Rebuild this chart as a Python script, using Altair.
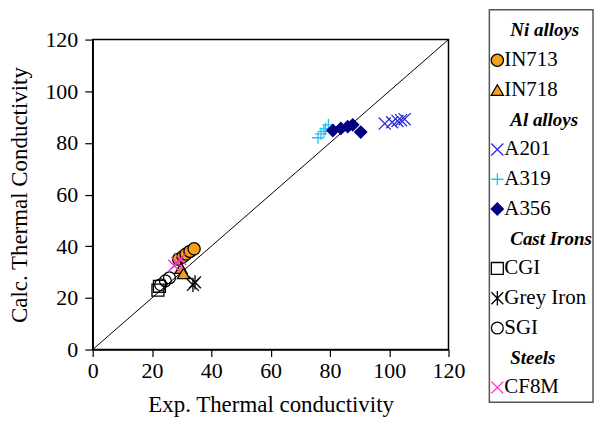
import altair as alt
import pandas as pd

# ---- data ----
in713_x = [29.0, 30.5, 31.5, 32.8, 34.2]
in713_y = [35.0, 36.0, 37.0, 38.0, 39.0]
in718_x = [29.8, 30.6]
in718_y = [31.5, 29.5]
a201_x = [98.5, 101.0, 102.8, 104.0, 105.2]
a201_y = [87.5, 88.0, 88.5, 88.8, 89.2]
a319_x = [76.0, 77.0, 78.0, 78.5, 79.5]
a319_y = [82.0, 83.5, 84.5, 85.5, 87.0]
a356_x = [81.0, 83.7, 86.0, 87.7, 90.4]
a356_y = [84.8, 85.6, 86.3, 87.0, 84.2]
cgi_x = [22.0, 22.5]
cgi_y = [23.0, 24.5]
grey_x = [33.8, 34.5]
grey_y = [25.0, 26.0]
sgi_x = [22.9, 24.5, 25.9]
sgi_y = [25.1, 26.6, 27.8]
cf8m_x = [27.5, 28.5, 29.5]
cf8m_y = [32.5, 33.5, 35.0]

diag = [0, 120]
ticks = [0, 20, 40, 60, 80, 100, 120]

series_names = ["IN713", "IN718", "A201", "A319", "A356", "CGI", "Grey Iron", "SGI", "CF8M"]
legend_labels = ["Ni alloys", "IN713", "IN718", "Al alloys", "A201", "A319", "A356",
                 "Cast Irons", "CGI", "Grey Iron", "SGI", "Steels", "CF8M"]
legend_is_header = [True, False, False, True, False, False, False, True, False, False, False, True, False]

# ---- styles ----
ORANGE = "#F7A11A"
BLUE = "#2B2BE0"
CYAN = "#22C4F0"
NAVY = "#000080"
MAGENTA = "#F030D0"
X_PATH = "M-1,-1L1,1M-1,1L1,-1"
PLUS_PATH = "M-1,0L1,0M0,-1L0,1"
AST_PATH = "M-1,-1L1,1M-1,1L1,-1M0,-1.2L0,1.2"

shape_range = ["circle", "triangle-up", X_PATH, PLUS_PATH, "diamond", "square", AST_PATH, "circle", X_PATH]
fill_range = [ORANGE, ORANGE, "transparent", "transparent", NAVY, "transparent", "transparent", "transparent", "transparent"]
stroke_range = ["black", "black", BLUE, CYAN, NAVY, "black", "black", "black", MAGENTA]
size_range = [150, 140, 190, 190, 140, 110, 170, 125, 190]
sw_range = [1.3, 1.3, 2.2, 2.2, 1.0, 1.6, 2.6, 1.9, 2.4]

all_xy = [(in713_x, in713_y), (in718_x, in718_y), (a201_x, a201_y), (a319_x, a319_y),
          (a356_x, a356_y), (cgi_x, cgi_y), (grey_x, grey_y), (sgi_x, sgi_y), (cf8m_x, cf8m_y)]
rows = []
for name, (xs, ys) in zip(series_names, all_xy):
    for x, y in zip(xs, ys):
        rows.append({"series": name, "exp": x, "calc": y})
df = pd.DataFrame(rows)

FONT = "Liberation Serif, Times New Roman, serif"

shape_enc = alt.Shape("series:N", scale=alt.Scale(domain=series_names, range=shape_range), legend=None)
fill_enc = alt.Fill("series:N", scale=alt.Scale(domain=series_names, range=fill_range), legend=None)
stroke_enc = alt.Stroke("series:N", scale=alt.Scale(domain=series_names, range=stroke_range), legend=None)
size_enc = alt.Size("series:N", scale=alt.Scale(domain=series_names, range=size_range), legend=None)
sw_enc = alt.StrokeWidth("series:N", scale=alt.Scale(domain=series_names, range=sw_range), legend=None)

xscale = alt.Scale(domain=[0, 120], nice=False, zero=False)
yscale = alt.Scale(domain=[0, 120], nice=False, zero=False)

diag_df = pd.DataFrame({"exp": diag, "calc": diag})
line = alt.Chart(diag_df).mark_line(color="black", strokeWidth=1).encode(
    x=alt.X("exp:Q", scale=xscale,
            axis=alt.Axis(title="Exp. Thermal conductivity", values=ticks, labelFlush=False,
                          grid=False, tickSize=7, labelPadding=4, titlePadding=12)),
    y=alt.Y("calc:Q", scale=yscale,
            axis=alt.Axis(title="Calc. Thermal Conductivity", values=ticks, labelFlush=False,
                          grid=False, tickSize=8, labelPadding=7, titlePadding=13)),
)

pts = alt.Chart(df).mark_point(opacity=1, filled=False).encode(
    x=alt.X("exp:Q", scale=xscale),
    y=alt.Y("calc:Q", scale=yscale),
    shape=shape_enc, fill=fill_enc, stroke=stroke_enc, size=size_enc, strokeWidth=sw_enc,
)

main = alt.layer(line, pts).properties(
    width=357, height=311,
    view=alt.ViewBackground(stroke="black", strokeWidth=1.5),
)

spacer = alt.Chart(pd.DataFrame({"v": [0]})).mark_point(opacity=0).encode(
    x=alt.X("v:Q", axis=None), y=alt.Y("v:Q", axis=None)
).properties(width=10, height=18, view=alt.ViewBackground(strokeOpacity=0))

left = alt.vconcat(spacer, main, spacing=0)

leg_df = pd.DataFrame({
    "row": list(range(len(legend_labels))),
    "label": legend_labels,
    "header": legend_is_header,
})
leg_df["series"] = leg_df["label"]

ly = alt.Y("row:Q", scale=alt.Scale(domain=[-0.7, 12.5], reverse=True, nice=False, zero=False), axis=None)

leg_sym = alt.Chart(leg_df).transform_filter("!datum.header").mark_point(opacity=1, filled=False).encode(
    x=alt.value(8), y=ly,
    shape=shape_enc, fill=fill_enc, stroke=stroke_enc, size=size_enc, strokeWidth=sw_enc,
)
leg_txt = alt.Chart(leg_df).transform_filter("!datum.header").mark_text(
    align="left", baseline="middle", font=FONT, fontSize=21, color="black"
).encode(x=alt.value(15), y=ly, text="label:N")
leg_head = alt.Chart(leg_df).transform_filter("datum.header").mark_text(
    align="left", baseline="middle", font=FONT, fontSize=19, fontStyle="italic", fontWeight="bold", color="black"
).encode(x=alt.value(21), y=ly, text="label:N")

legend = alt.layer(leg_sym, leg_txt, leg_head).properties(
    width=104, height=394,
    view=alt.ViewBackground(stroke="#555555", strokeWidth=1.5),
)

chart = alt.hconcat(left, legend, spacing=21).properties(padding=0).configure(
    font=FONT, background="white"
).configure_axis(
    labelFont=FONT, labelFontSize=22, labelColor="black",
    titleFont=FONT, titleFontSize=23, titleFontWeight="normal", titleColor="black",
    domainColor="black", domainWidth=1.5, tickColor="black", tickWidth=1.2,
)

chart.save("out.html", embed_options={"renderer": "svg", "actions": False})
